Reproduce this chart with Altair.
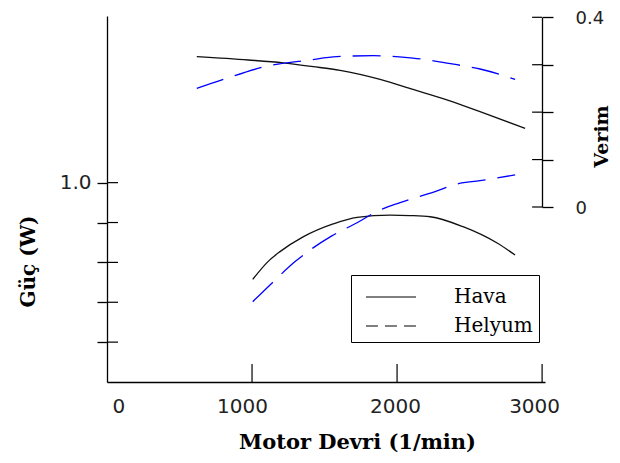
import altair as alt
import pandas as pd

# ---- data ----
series = ["Hava", "Helyum"]

rpm_hava_power = [1005, 1110, 1193, 1352, 1559, 1724, 1952, 2090, 2228, 2455, 2690, 2814]
hava_power = [0.515, 0.604, 0.654, 0.728, 0.793, 0.826, 0.837, 0.835, 0.829, 0.779, 0.697, 0.637]

rpm_he_power = [1005, 1124, 1297, 1550, 1724, 1860, 2021, 2262, 2412, 2572, 2814]
he_power = [0.403, 0.487, 0.604, 0.733, 0.799, 0.855, 0.900, 0.955, 0.993, 1.010, 1.039]

rpm_hava_eff = [619, 974, 1214, 1421, 1607, 1883, 2110, 2343, 2572, 2883]
hava_eff = [0.317, 0.310, 0.304, 0.296, 0.288, 0.269, 0.248, 0.226, 0.201, 0.166]

rpm_he_eff = [619, 802, 1090, 1400, 1584, 1837, 2110, 2412, 2572, 2814]
he_eff = [0.250, 0.269, 0.296, 0.310, 0.317, 0.319, 0.314, 0.300, 0.291, 0.269]

x_ticks = [0, 1000, 2000, 3000]
power_ticks = [0.2, 0.4, 0.6, 0.8, 1.0]
eff_ticks = [0.0, 0.1, 0.2, 0.3, 0.4]

hava_p_df = pd.DataFrame({"rpm": rpm_hava_power, "val": hava_power})
he_p_df = pd.DataFrame({"rpm": rpm_he_power, "val": he_power})
hava_e_df = pd.DataFrame({"rpm": rpm_hava_eff, "val": hava_eff})
he_e_df = pd.DataFrame({"rpm": rpm_he_eff, "val": he_eff})
legend_df = pd.DataFrame({"seri": series, "rpm": [0, 0], "val": [0, 0]})
ptick_df = pd.DataFrame({"val": power_ticks})
etick_df = pd.DataFrame({"val": eff_ticks})
xtick_df = pd.DataFrame({"rpm": x_ticks[1:]})

W, H = 438, 366
X_MAX = 3020
Y_MAX = 1.836
BLACK = "#111111"
BLUE = "#0000ff"

xscale = alt.Scale(domain=[0, X_MAX], nice=False, zero=False)
pscale = alt.Scale(domain=[0, Y_MAX], nice=False, zero=False)
escale = alt.Scale(domain=[0, 0.4], range=[191, 1.3], nice=False, zero=False)

x_axis = alt.Axis(
    values=x_ticks, format="d", ticks=False, grid=False, labelFontSize=20, labelPadding=14,
    labelOffset={"condition": [
        {"test": "datum.value == 0", "value": 5},
        {"test": "datum.value == 1000", "value": -10},
        {"test": "datum.value == 2000", "value": -2},
    ], "value": -8},
    title="Motor Devri (1/min)", titleFont="DejaVu Serif", titleFontWeight="bold",
    titleFontSize=21, titleX=250, titleY=60, titleBaseline="middle",
)
p_axis = alt.Axis(
    values=power_ticks, tickSize=10, grid=False, labelFontSize=20, labelPadding=6,
    labelExpr="abs(datum.value - 1) < 0.001 ? '1.0' : ''",
    title="Güç (W)", titleFont="DejaVu Serif", titleFontWeight="bold", titleFontSize=20,
    titleAngle=270, titleX=-79, titleY=245, titleBaseline="middle",
)
e_axis = alt.Axis(
    orient="right", values=eff_ticks, tickSize=11, offset=-3, grid=False,
    labelFontSize=18, labelPadding=22, labelOffset=1,
    labelExpr="datum.value < 0.001 ? '0' : datum.value > 0.399 ? '0.4' : ''",
    title="Verim", titleFont="DejaVu Serif", titleFontWeight="bold", titleFontSize=19,
    titleAngle=270, titleX=59, titleY=120, titleBaseline="middle",
)

legend = alt.Legend(
    title=None, orient="none", legendX=244, legendY=259, direction="vertical",
    symbolType="M-1.67,0H1.67", symbolSize=900, symbolStrokeWidth=1.2,
    symbolStrokeColor="black", symbolFillColor="transparent", symbolOpacity=1,
    symbolOffset=18, labelOffset=47,
    labelFont="DejaVu Serif", labelFontSize=20, labelColor="black",
    padding=6, rowPadding=3, strokeColor="black", fillColor="white",
    labelExpr="datum.label + '\u00a0\u00a0\u00a0'",
)

hava_p = alt.Chart(hava_p_df).mark_line(interpolate="monotone", strokeWidth=1.3, color=BLACK).encode(
    x=alt.X("rpm:Q", scale=xscale, axis=x_axis),
    y=alt.Y("val:Q", scale=pscale, axis=p_axis),
)
he_p = alt.Chart(he_p_df).mark_line(interpolate="monotone", strokeWidth=1.3, color=BLUE,
                                     strokeDash=[28, 12]).encode(
    x=alt.X("rpm:Q", scale=xscale), y=alt.Y("val:Q", scale=pscale),
)
legend_layer = alt.Chart(legend_df).transform_filter("false").mark_line(color=BLACK).encode(
    x=alt.X("rpm:Q", scale=xscale), y=alt.Y("val:Q", scale=pscale),
    strokeDash=alt.StrokeDash("seri:N", scale=alt.Scale(domain=series, range=[[1, 0], [12, 7]]),
                              legend=legend),
)
power_inner = alt.Chart(ptick_df).mark_rule(color="black", strokeWidth=1.2).encode(
    y=alt.Y("val:Q", scale=pscale),
    x=alt.datum(0),
    x2=alt.datum(76),
)
x_inner = alt.Chart(xtick_df).mark_rule(color="black", strokeWidth=1.2).encode(
    x=alt.X("rpm:Q", scale=xscale),
    y=alt.datum(0),
    y2=alt.datum(0.09),
)
left = alt.layer(hava_p, he_p, legend_layer, power_inner, x_inner)

hava_e = alt.Chart(hava_e_df).mark_line(interpolate="monotone", strokeWidth=1.3, color=BLACK).encode(
    x=alt.X("rpm:Q", scale=xscale),
    y=alt.Y("val:Q", scale=escale, axis=e_axis),
)
he_e = alt.Chart(he_e_df).mark_line(interpolate="monotone", strokeWidth=1.3, color=BLUE,
                                     strokeDash=[28, 12]).encode(
    x=alt.X("rpm:Q", scale=xscale), y=alt.Y("val:Q", scale=escale),
)
eff_inner = alt.Chart(etick_df).mark_rule(color="black", strokeWidth=1.2).encode(
    y=alt.Y("val:Q", scale=escale),
    x=alt.datum(2931),
    x2=alt.datum(3000),
)
right = alt.layer(hava_e, he_e, eff_inner)

chart = alt.layer(left, right).resolve_scale(y="independent").properties(
    width=W, height=H,
    autosize=alt.AutoSizeParams(type="none"),
    padding={"left": 99, "top": 8, "right": 67, "bottom": 73},
).configure_view(stroke=None).configure_axis(
    domainColor="black", domainWidth=1.3, tickColor="black", tickWidth=1.3,
    labelFont="DejaVu Sans", labelColor="#222222", titleColor="black",
)

chart.save("out.html", embed_options={"renderer": "svg", "actions": False})
